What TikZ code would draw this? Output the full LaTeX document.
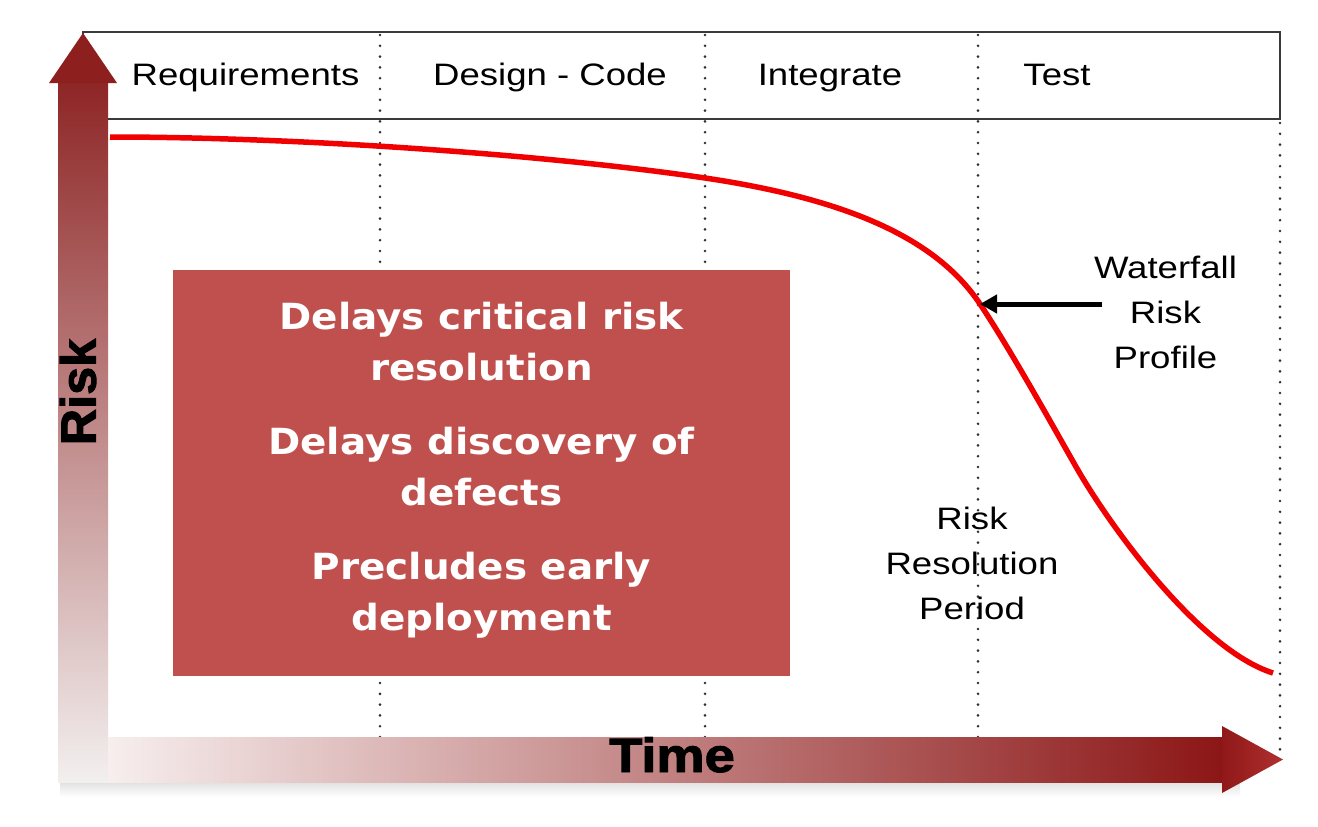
\documentclass[tikz,border=0pt]{standalone}
\usepackage{fontspec}
\setmainfont{Liberation Sans}[FakeStretch=1.18]
\newfontfamily\boxfont{DejaVu Sans}[FakeStretch=1.08]
\newfontfamily\heavyfont{Liberation Sans}[BoldFeatures={FakeBold=2}]
\usetikzlibrary{arrows.meta}
\definecolor{boxred}{HTML}{C0504D}
\definecolor{bandgray}{HTML}{3A3A3A}
\definecolor{dotgray}{HTML}{303030}
\definecolor{curvered}{HTML}{F00000}
\definecolor{rtop}{HTML}{8E2626}
\definecolor{rmid}{HTML}{D8C4C4}
\definecolor{rbot}{HTML}{F3EFEF}
\definecolor{rhead}{HTML}{8D1F1F}
\definecolor{tleft}{HTML}{F7EEEE}
\definecolor{tmid}{HTML}{CF9999}
\definecolor{tright}{HTML}{8C1616}
\definecolor{thead1}{HTML}{8F1818}
\definecolor{thead2}{HTML}{B03030}
\tikzset{
  hdr/.style={anchor=base, inner sep=0pt, font=\fontsize{31}{45}\selectfont},
  lbl/.style={anchor=base, inner sep=0pt, font=\fontsize{31}{45}\selectfont},
  dotline/.style={draw=dotgray, line width=2.9pt, line cap=round, dash pattern=on 0pt off 10.8pt},
  riskcurve/.style={draw=curvered, line width=5.5pt},
  pointer/.style={draw=black, line width=5pt, -{Triangle[length=17pt,width=18pt]}},
  redbox/.style={fill=boxred, inner sep=0pt, minimum width=617pt, minimum height=406pt,
    text=white, font=\boxfont\bfseries\fontsize{36}{51}\selectfont},
  axislabel/.style={inner sep=0pt, text=black}
}
\begin{document}
\begin{tikzpicture}[x=1pt,y=-1pt]
\useasboundingbox (0,0) rectangle (1318,827);
\fill[white] (0,0) rectangle (1318,827);

% header band
\draw[draw=bandgray, line width=2pt] (83,32) rectangle (1280,119);

% dotted phase separators
\draw[dotline] (380,35) -- (380,737);
\draw[dotline] (705,35) -- (705,737);
\draw[dotline] (978,35) -- (978,737);
\draw[dotline] (1280,123) -- (1280,756);

% header texts
\node[hdr] (req) at (245.5,85) {Requirements};
\node[hdr] (des) at (550,85) {Design - Code};
\node[hdr] (int) at (830,85) {Integrate};
\node[hdr] (tst) at (1057,85) {Test};

% risk profile curve
\coordinate (wftip) at (980,304);
\draw[riskcurve] (110,137) .. controls (300,137) and (550,155) .. (705,178)
  .. controls (850,199.5) and (937,239.5) .. (wftip)
  .. controls (1010,349) and (1050,421) .. (1075,465)
  .. controls (1110,527) and (1200,650) .. (1273,673);

% red box
\node[redbox] (box) at (481.5,473) {\begin{tabular}{@{}c@{}}Delays critical risk\\ resolution\\[23pt] Delays discovery of\\ defects\\[23pt] Precludes early\\ deployment\\[6.6pt]\end{tabular}};

% labels
\node[lbl] (wf) at (1165.5,278) {\begin{tabular}[t]{@{}c@{}}Waterfall\\ Risk\\ Profile\end{tabular}};
\node[lbl] (rrp) at (972,529) {\begin{tabular}[t]{@{}c@{}}Risk\\ Resolution\\ Period\end{tabular}};

\coordinate (wfstart) at (1102,304);
\draw[pointer] (wfstart) -- (wftip);

% soft shadow under time axis
\shade[top color=black!12, bottom color=white] (60,782) rectangle (1240,797);

% Risk axis arrow
\shade[top color=rtop, middle color=rmid, bottom color=rbot] (58,83) rectangle (108,782);
\fill[rhead] (49,83) -- (83,33) -- (117,83) -- cycle;

% Time axis arrow
\shade[left color=tleft, middle color=tmid, right color=tright] (108,737) rectangle (1222,782);
\shade[left color=thead1, right color=thead2] (1222,726) -- (1283,759.5) -- (1222,793) -- cycle;

\node[axislabel, rotate=90, font=\heavyfont\bfseries\fontsize{42}{50}\selectfont] (risk) at (78,392) {\scalebox{1.2}[1.18]{Risk}};
\node[axislabel, anchor=base, font=\heavyfont\bfseries\fontsize{48}{56}\selectfont] (time) at (672,772) {\scalebox{1.13}[1]{Time}};
\end{tikzpicture}
\end{document}
